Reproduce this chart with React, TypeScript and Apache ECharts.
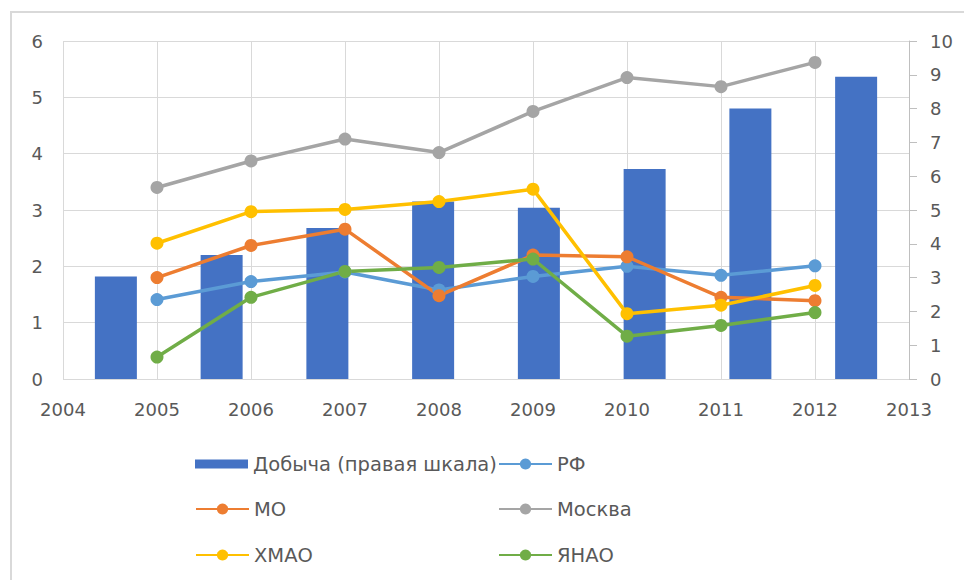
import React, { useEffect, useRef } from "react";
import * as echarts from "echarts";

const years = [2005, 2006, 2007, 2008, 2009, 2010, 2011, 2012];
const barCategories = ["2005", "2006", "2007", "2008", "2009", "2010", "2011", "2012"];
const dobycha = [3.03, 3.67, 4.47, 5.25, 5.07, 6.21, 8.0, 8.94];
const rf = [1.41, 1.73, 1.9, 1.58, 1.82, 2.0, 1.84, 2.01];
const mo = [1.8, 2.37, 2.66, 1.48, 2.2, 2.17, 1.45, 1.39];
const moskva = [3.4, 3.87, 4.26, 4.02, 4.75, 5.35, 5.19, 5.62];
const hmao = [2.41, 2.97, 3.01, 3.15, 3.37, 1.16, 1.31, 1.66];
const yanao = [0.39, 1.45, 1.91, 1.98, 2.13, 0.76, 0.95, 1.18];

const FONT = "'DejaVu Sans', 'Open Sans', sans-serif";
const FS = 18;
const LFS = 19.5;
const TEXT = "#595959";
const GRID = "#D9D9D9";

const lineSeries = (name: string, values: number[], color: string) => ({
  name,
  type: "line",
  xAxisIndex: 0,
  yAxisIndex: 0,
  data: years.map((y, i) => [y, values[i]]),
  symbol: "circle",
  symbolSize: 13,
  lineStyle: { color, width: 3.5 },
  itemStyle: { color },
  z: 3,
});

const legendItem = (name: string, left: number, top: number, bar = false) => ({
  data: [name],
  left,
  top,
  itemWidth: 53,
  itemHeight: bar ? 9 : 14,
  icon: bar ? "rect" : undefined,
  textStyle: { fontFamily: FONT, fontSize: LFS, color: TEXT, padding: [0, 0, 0, 0] },
  padding: 0,
  selectedMode: false,
});

export default function App() {
  const ref = useRef<HTMLDivElement>(null);
  useEffect(() => {
    if (!ref.current) return;
    const chart = echarts.init(ref.current, undefined, { renderer: "svg" });
    chart.setOption({
      animation: false,
      backgroundColor: "#ffffff",
      textStyle: { fontFamily: FONT },
      graphic: [
        {
          type: "rect",
          shape: { x: 11, y: 12, width: 1000, height: 600 },
          style: { fill: "none", stroke: GRID, lineWidth: 2 },
          silent: true,
        },
      ],
      grid: { left: 63, right: 55, top: 41, bottom: 201, containLabel: false },
      xAxis: [
        {
          type: "value",
          min: 2004,
          max: 2013,
          interval: 1,
          axisLine: { show: false },
          axisTick: { show: false },
          splitLine: { show: true, lineStyle: { color: GRID, width: 1 } },
          axisLabel: {
            formatter: (v: number) => String(v),
            fontSize: FS,
            color: TEXT,
            fontFamily: FONT,
            margin: 21,
          },
        },
        {
          type: "category",
          data: barCategories,
          position: "bottom",
          show: false,
          boundaryGap: true,
        },
      ],
      yAxis: [
        {
          type: "value",
          min: 0,
          max: 6,
          interval: 1,
          axisLine: { show: false },
          axisTick: { show: false },
          splitLine: { show: true, lineStyle: { color: GRID, width: 1 } },
          axisLabel: { fontSize: FS, color: TEXT, fontFamily: FONT, margin: 20 },
        },
        {
          type: "value",
          min: 0,
          max: 10,
          interval: 1,
          position: "right",
          axisLine: { show: true, lineStyle: { color: "#BFBFBF", width: 1 } },
          axisTick: { show: true, inside: false, length: 8, lineStyle: { color: "#BFBFBF" } },
          splitLine: { show: false },
          axisLabel: { fontSize: FS, color: TEXT, fontFamily: FONT, margin: 21 },
        },
      ],
      legend: [
        legendItem("Добыча (правая шкала)", 195, 454, true),
        legendItem("МО", 195, 499),
        legendItem("ХМАО", 195, 545),
        legendItem("РФ", 498, 454),
        legendItem("Москва", 498, 499),
        legendItem("ЯНАО", 498, 545),
      ],
      series: [
        {
          name: "Добыча (правая шкала)",
          type: "bar",
          xAxisIndex: 1,
          yAxisIndex: 1,
          data: dobycha,
          barWidth: 42,
          itemStyle: { color: "#4472C4" },
          z: 2,
        },
        lineSeries("РФ", rf, "#5B9BD5"),
        lineSeries("МО", mo, "#ED7D31"),
        lineSeries("Москва", moskva, "#A5A5A5"),
        lineSeries("ХМАО", hmao, "#FFC000"),
        lineSeries("ЯНАО", yanao, "#70AD47"),
      ],
    });
    return () => chart.dispose();
  }, []);
  return (
    <div
      ref={ref}
      style={{ position: "fixed", left: 0, top: 0, width: 964, height: 580, background: "#fff" }}
    />
  );
}
